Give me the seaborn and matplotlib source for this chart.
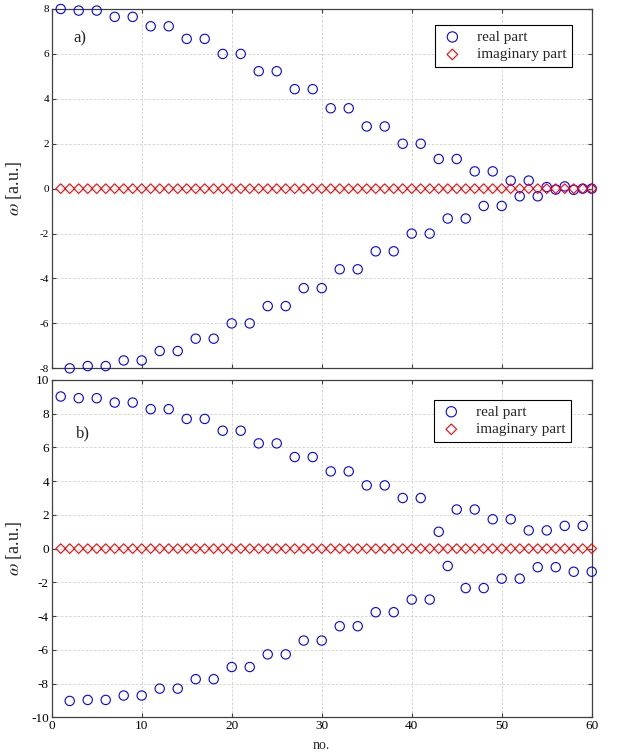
import numpy as np
import pandas as pd
import matplotlib
matplotlib.use("Agg")
from matplotlib import pyplot as plt
import seaborn as sns

# panel a) real part: positive branch at odd no., negative branch at even no.
a_real_pos = [8.0, 7.93, 7.93, 7.65, 7.65, 7.23, 7.23, 6.67, 6.67, 6.0, 6.0, 5.23, 5.23, 4.43, 4.43,
              3.58, 3.58, 2.77, 2.77, 2.0, 2.0, 1.32, 1.32, 0.77, 0.77, 0.36, 0.36, 0.07, 0.1, 0.0]
a_real_neg = [-8.0, -7.9, -7.9, -7.65, -7.65, -7.23, -7.23, -6.68, -6.68, -6.0, -6.0, -5.23, -5.23, -4.43, -4.43,
              -3.59, -3.59, -2.79, -2.79, -2.0, -2.0, -1.33, -1.33, -0.77, -0.77, -0.34, -0.34, -0.04, -0.05, 0.0]
a_imag = [0.0] * 60

# panel b)
b_real_pos = [9.02, 8.92, 8.92, 8.66, 8.66, 8.27, 8.27, 7.69, 7.69, 6.99, 6.99, 6.24, 6.24, 5.43, 5.43,
              4.58, 4.58, 3.75, 3.75, 3.0, 3.0, 1.0, 2.32, 2.32, 1.74, 1.74, 1.08, 1.08, 1.35, 1.35]
b_real_neg = [-9.03, -8.97, -8.97, -8.71, -8.71, -8.3, -8.3, -7.74, -7.74, -7.02, -7.02, -6.27, -6.27, -5.45, -5.45,
              -4.6, -4.6, -3.77, -3.77, -3.02, -3.02, -1.03, -2.34, -2.34, -1.78, -1.78, -1.1, -1.1, -1.37, -1.37]
b_imag = [0.0] * 60

n_odd = np.arange(1, 60, 2)
n_even = np.arange(2, 61, 2)
n_all = np.arange(1, 61)

sns.set_style("white")
plt.rcParams["font.family"] = ["Liberation Serif", "DejaVu Serif"]
plt.rcParams["mathtext.fontset"] = "stix"
plt.rcParams.update({
    "axes.unicode_minus": False,
    "xtick.direction": "in", "ytick.direction": "in",
    "xtick.top": True, "ytick.right": True,
    "xtick.bottom": True, "ytick.left": True,
    "xtick.major.size": 3, "ytick.major.size": 3,
    "xtick.major.pad": 2, "ytick.major.pad": 2,
    "xtick.color": "#404040", "ytick.color": "#404040",
})

fig = plt.figure(figsize=(6.23, 7.56), dpi=100)
ax1 = fig.add_axes([0.083, 0.5128, 0.8668, 0.4753])
ax2 = fig.add_axes([0.083, 0.0512, 0.8668, 0.4462])


def draw(ax, pos, neg, imag, ylim, yticks, tick_fs, tag, tag_xy, leg_anchor):
    real = pd.DataFrame({"no": np.concatenate([n_odd, n_even]), "w": pos + neg})
    im = pd.DataFrame({"no": n_all, "w": imag})
    sns.scatterplot(data=real, x="no", y="w", ax=ax, marker="o", s=45,
                    facecolor="none", edgecolor="blue", linewidth=0.8,
                    label="real part", clip_on=False, zorder=3)
    sns.scatterplot(data=im, x="no", y="w", ax=ax, marker="D", s=24,
                    facecolor="none", edgecolor="red", linewidth=0.8,
                    label="imaginary part", clip_on=False, zorder=3)
    ax.set_xlim(0, 60)
    ax.set_ylim(*ylim)
    ax.set_xticks(np.arange(0, 61, 10))
    ax.set_yticks(yticks)
    ax.grid(True, color="#cfcfcf", linestyle=(0, (3, 2)), linewidth=0.6)
    for sp in ax.spines.values():
        sp.set_color("#404040")
        sp.set_linewidth(0.9)
        sp.set_visible(True)
    ax.tick_params(labelsize=tick_fs, labelcolor="black")
    ax.set_ylabel(r"$\omega$ [a.u.]", fontsize=13)
    ax.yaxis.set_label_coords(-0.052, 0.5)
    ax.set_xlabel("")
    ax.text(tag_xy[0], tag_xy[1], tag, fontsize=12, va="center", ha="left")
    leg = ax.legend(loc="upper right", bbox_to_anchor=leg_anchor, fontsize=11,
                    frameon=True, fancybox=False, framealpha=1, edgecolor="black",
                    handletextpad=0.8, borderpad=0.35, labelspacing=0.25,
                    handlelength=1.6, scatterpoints=1, markerscale=1.1)
    leg.get_frame().set_linewidth(0.8)


draw(ax1, a_real_pos, a_real_neg, a_imag, (-8, 8), np.arange(-8, 9, 2), 8,
     "a)", (2.4, 6.67), (0.977, 0.977))
ax1.tick_params(labelbottom=False)

draw(ax2, b_real_pos, b_real_neg, b_imag, (-10, 10), np.arange(-10, 11, 2), 9.5,
     "b)", (2.7, 6.85), (0.975, 0.964))
ax2.set_xlabel("no.", fontsize=10)
ax2.xaxis.set_label_coords(0.5, -0.065)

fig.savefig("out.png", dpi=100)
